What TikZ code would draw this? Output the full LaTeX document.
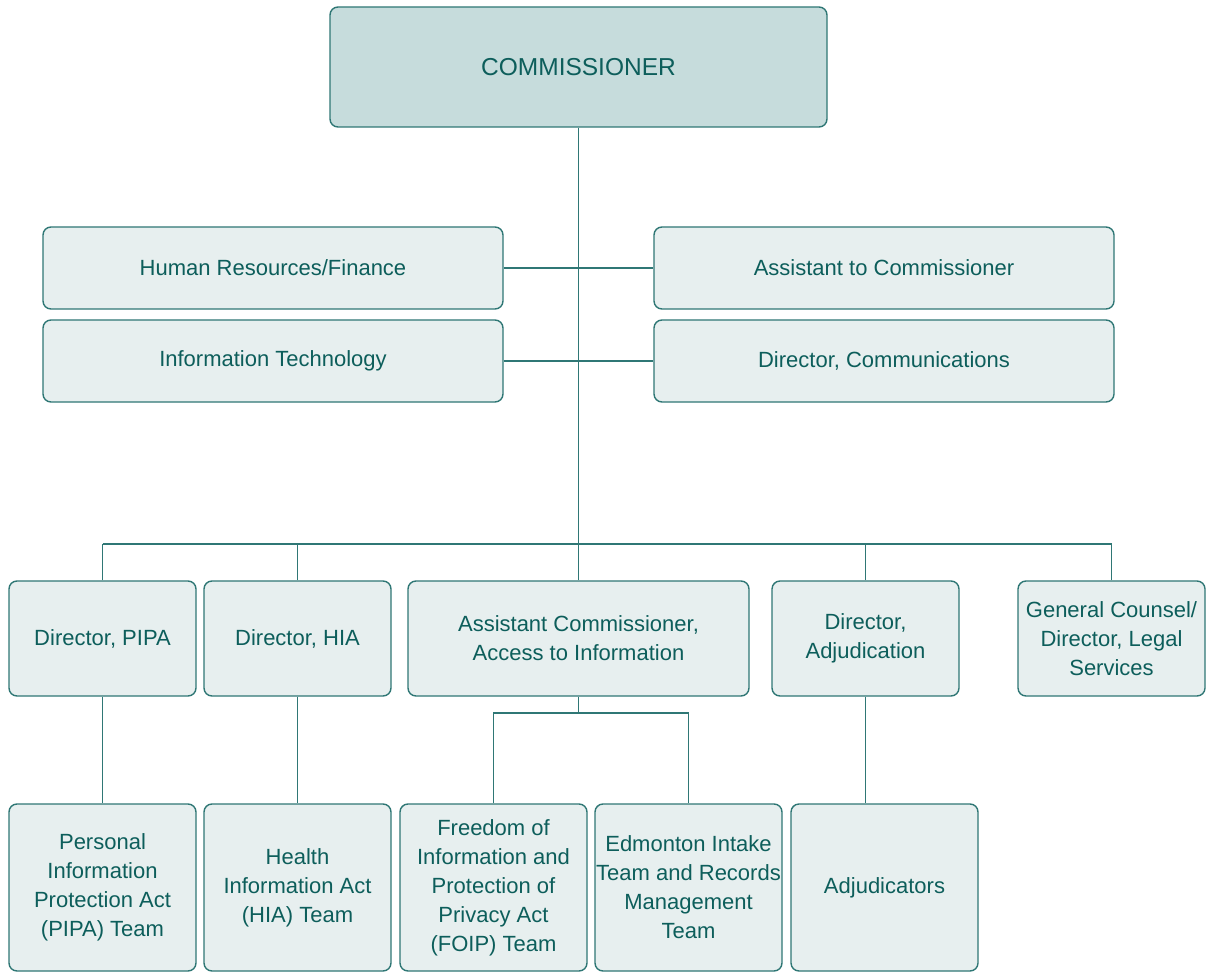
\documentclass[tikz,border=0pt]{standalone}
\usepackage{fontspec}
\setmainfont{Liberation Sans}
\definecolor{boxline}{HTML}{2F7775}
\definecolor{txt}{HTML}{0D5E5B}
\definecolor{fillA}{HTML}{C6DCDC}
\definecolor{fillB}{HTML}{E7EFEF}
\begin{document}
\begin{tikzpicture}[x=1pt,y=-1pt,
  box/.style={draw=boxline, line width=1.4pt, fill=fillB, rounded corners=8pt,
    align=center, text=txt, inner sep=1pt,
    font=\fontsize{22}{29}\selectfont},
  link/.style={draw=boxline, line width=1.4pt}]
\useasboundingbox (0,0) rectangle (1209,973);
\node[box, fill=fillA, minimum width=497pt, minimum height=120pt, font=\fontsize{24.5}{29}\selectfont] (comm) at (578.5,67) {COMMISSIONER};
\node[box, minimum width=460pt, minimum height=82pt] (hr) at (273,268) {Human Resources/Finance};
\node[box, minimum width=460pt, minimum height=82pt] (asst) at (884,268) {Assistant to Commissioner};
\node[box, minimum width=460pt, minimum height=82pt] (it) at (273,361) {Information Technology};
\node[box, minimum width=460pt, minimum height=82pt] (dcom) at (884,361) {Director, Communications};
\node[box, minimum width=187pt, minimum height=115pt] (dpipa) at (102.5,638.5) {Director, PIPA};
\node[box, minimum width=187pt, minimum height=115pt] (dhia) at (297.5,638.5) {Director, HIA};
\node[box, minimum width=341pt, minimum height=115pt] (acomm) at (578.5,638.5) {Assistant Commissioner,\\Access to Information};
\node[box, minimum width=187pt, minimum height=115pt] (dadj) at (865.5,638.5) {Director,\\Adjudication};
\node[box, minimum width=187pt, minimum height=115pt] (gc) at (1111.5,638.5) {General Counsel/\\Director, Legal\\Services};
\node[box, minimum width=187pt, minimum height=167pt] (pipat) at (102.5,887.5) {Personal\\Information\\Protection Act\\(PIPA) Team};
\node[box, minimum width=187pt, minimum height=167pt] (hiat) at (297.5,887.5) {Health\\Information Act\\(HIA) Team};
\node[box, minimum width=187pt, minimum height=167pt] (foip) at (493.5,887.5) {Freedom of\\Information and\\Protection of\\Privacy Act\\(FOIP) Team};
\node[box, minimum width=187pt, minimum height=167pt] (edm) at (688.5,887.5) {Edmonton Intake\\Team and Records\\Management\\Team};
\node[box, minimum width=187pt, minimum height=167pt] (adjs) at (884.5,887.5) {Adjudicators};
\coordinate (busL) at (102.5,544);
\coordinate (busR) at (1111.5,544);
\coordinate (busM) at (578.5,544);
\coordinate (sub) at (578.5,713);
% connectors
\draw[link] (comm.south) -- (busM);
\draw[link] (hr.east) -- (asst.west);
\draw[link] (it.east) -- (dcom.west);
\draw[link] (busL) -- (busR);
\draw[link] (dpipa.north) -- (dpipa.north |- busL);
\draw[link] (dhia.north) -- (dhia.north |- busL);
\draw[link] (acomm.north) -- (busM);
\draw[link] (dadj.north) -- (dadj.north |- busL);
\draw[link] (gc.north) -- (busR);
\draw[link] (dpipa.south) -- (pipat.north);
\draw[link] (dhia.south) -- (hiat.north);
\draw[link] (dadj.south) -- (dadj.south |- adjs.north);
\draw[link] (acomm.south) -- (sub);
\draw[link] (foip.north) -- (foip.north |- sub) -- (edm.north |- sub) -- (edm.north);
\end{tikzpicture}
\end{document}
